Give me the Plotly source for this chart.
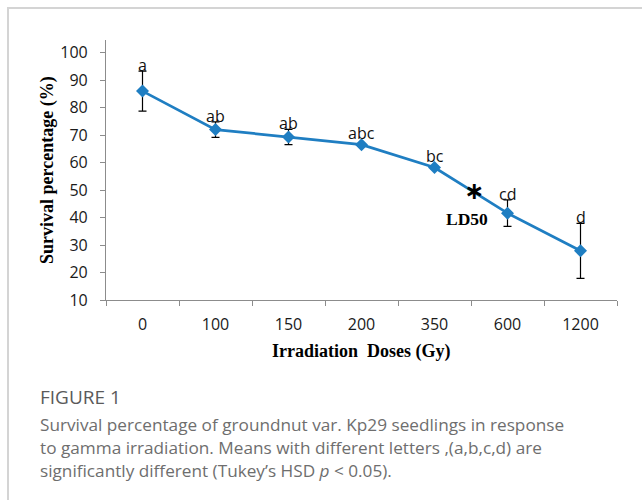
import plotly.graph_objects as go

# ---- data ----
doses = ["0", "100", "150", "200", "350", "600", "1200"]
survival = [86.0, 72.0, 69.3, 66.5, 58.2, 41.6, 27.9]
err = [7.3, 2.8, 2.8, 0.4, 0.4, 4.8, 10.0]
letters = ["a", "ab", "ab", "abc", "bc", "cd", "d"]
y_ticks = [10, 20, 30, 40, 50, 60, 70, 80, 90, 100]
ld50_pos = 4.5
ld50_value = 49.5

# ---- layout geometry (pixels) ----
W, H = 642, 500
L, R, T, B = 106, 617, 40, 300


def px(x):
    return (x - L) / (R - L)


def py(y):
    return (B - y) / (B - T)


xi = list(range(len(doses)))
blue = "#1f7ec2"
axis_col = "#8c8c8c"

fig = go.Figure()
fig.add_trace(go.Scatter(
    x=xi, y=survival, mode="lines+markers",
    line=dict(color=blue, width=2.75),
    marker=dict(symbol="diamond", size=10, color=blue),
    error_y=dict(type="data", array=err, color="black", thickness=1.2, width=4),
    showlegend=False, cliponaxis=False,
))

ann = []
for i, (v, e, t) in enumerate(zip(survival, err, letters)):
    anchor = max(v + e, v + 2.0)
    ann.append(dict(x=i, y=anchor, xref="x", yref="y", text=t, showarrow=False,
                    xanchor="center", yanchor="bottom", yshift=-7,
                    font=dict(family="Open Sans", size=16, color="#111")))

# LD50 marker
ann.append(dict(x=ld50_pos, y=ld50_value, xref="x", yref="y", text="<b>\u2217</b>",
                showarrow=False, xanchor="center", yanchor="middle", yshift=0, xshift=3,
                font=dict(family="DejaVu Sans", size=24, color="black")))
ann.append(dict(x=px(467), y=py(219), xref="paper", yref="paper", text="<b>LD50</b>",
                showarrow=False, xanchor="center", yanchor="middle",
                font=dict(family="Liberation Serif", size=17.5, color="black")))

# axis titles
ann.append(dict(x=px(47), y=py(170), xref="paper", yref="paper",
                text="<b>Survival percentage (%)</b>", textangle=-90,
                showarrow=False, xanchor="center", yanchor="middle",
                font=dict(family="Liberation Serif", size=18, color="black")))
ann.append(dict(x=px(361), y=py(351), xref="paper", yref="paper",
                text="<b>Irradiation\u00a0 Doses (Gy)</b>",
                showarrow=False, xanchor="center", yanchor="middle",
                font=dict(family="Liberation Serif", size=18, color="black")))

# caption
ann.append(dict(x=px(38), y=py(397), xref="paper", yref="paper", text="FIGURE 1",
                showarrow=False, xanchor="left", yanchor="middle",
                font=dict(family="Open Sans", size=19, color="#5a5a5a")))
cap_lines = [
    "Survival percentage of groundnut var. Kp29 seedlings in response",
    "to gamma irradiation. Means with different letters ,(a,b,c,d) are",
    "significantly different (Tukey\u2019s HSD <i>p</i> &lt; 0.05).",
]
for k, line in enumerate(cap_lines):
    ann.append(dict(x=px(38), y=py(424 + 23 * k), xref="paper", yref="paper", text=line,
                    showarrow=False, xanchor="left", yanchor="middle",
                    font=dict(family="Open Sans", size=17.2, color="#6e6e6e")))

shapes = [
    dict(type="line", xref="paper", yref="paper", x0=px(7), x1=px(642), y0=py(8), y1=py(8),
         line=dict(color="#d4d4d4", width=2)),
    dict(type="line", xref="paper", yref="paper", x0=px(8), x1=px(8), y0=py(7), y1=py(500),
         line=dict(color="#d4d4d4", width=2)),
]

fig.update_layout(
    width=W, height=H,
    margin=dict(l=L, r=W - R, t=T, b=H - B, pad=0),
    paper_bgcolor="white", plot_bgcolor="white",
    annotations=ann, shapes=shapes,
    xaxis=dict(
        range=[-0.5, len(doses) - 0.5], tickmode="array", tickvals=xi, ticktext=doses,
        ticks="", showgrid=False, zeroline=False, showline=True, linecolor=axis_col, linewidth=1.2,
        tickfont=dict(family="Open Sans", size=16, color="#1a1a1a"),
        ticklabelstandoff=10,
        minor=dict(tickmode="array", tickvals=[i - 0.5 for i in range(len(doses) + 1)],
                   ticks="outside", ticklen=5, tickcolor=axis_col, tickwidth=1.2, showgrid=False),
    ),
    yaxis=dict(
        range=[10, 104.6], tickmode="array", tickvals=y_ticks,
        ticks="outside", ticklen=5, tickcolor=axis_col, tickwidth=1.2,
        showgrid=False, zeroline=False, showline=True, linecolor=axis_col, linewidth=1.2,
        tickfont=dict(family="Open Sans", size=16, color="#1a1a1a"),
        ticklabelstandoff=9,
    ),
)

fig.write_html("out.html", config={"displayModeBar": False},
               post_script="document.body.style.margin='0';document.body.style.padding='0';")
